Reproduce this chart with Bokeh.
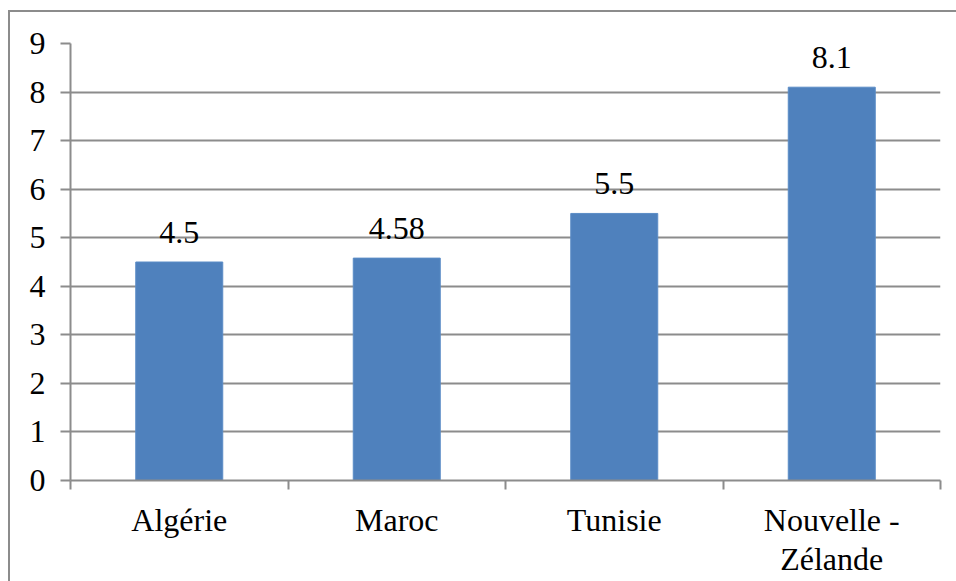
from bokeh.plotting import figure
from bokeh.models import ColumnDataSource, LabelSet, FixedTicker, Range1d
from bokeh.core.properties import value
from bokeh.embed import file_html
from bokeh.resources import INLINE

categories = ["Algérie", "Maroc", "Tunisie", "Nouvelle -\nZélande"]
values = [4.5, 4.58, 5.5, 8.1]
value_labels = ["4.5", "4.58", "5.5", "8.1"]
y_ticks = [0, 1, 2, 3, 4, 5, 6, 7, 8, 9]

FONT = "Liberation Serif"
FS = "32px"
GRAY = "#8c8c8c"

xs = [i + 0.5 for i in range(len(categories))]
src = ColumnDataSource(dict(x=xs, top=values, lab=value_labels))

p = figure(width=946, height=569, frame_width=870, frame_height=437,
           output_backend="svg", toolbar_location=None,
           x_range=Range1d(0, len(categories)), y_range=Range1d(0, 9),
           min_border_left=60, min_border_right=16, min_border_top=31, min_border_bottom=101)
p.margin = (10, 0, 0, 8)
p.styles = {"border-left": "2px solid #8c8c8c", "border-top": "2px solid #8c8c8c"}

p.vbar(x="x", top="top", width=0.4, source=src, fill_color="#4F81BD", line_color="#5b8cc6", line_width=1)

p.add_layout(LabelSet(x="x", y="top", text="lab", source=src, y_offset=19,
                      text_align="center", text_baseline="bottom",
                      text_font=value(FONT), text_font_size=FS, text_color="black"))

p.outline_line_color = None
p.xgrid.grid_line_color = None
p.ygrid.grid_line_color = GRAY
p.ygrid.grid_line_width = 2
p.ygrid.ticker = FixedTicker(ticks=y_ticks)

ya = p.yaxis[0]
ya.ticker = FixedTicker(ticks=y_ticks)
ya.axis_line_color = GRAY
ya.axis_line_width = 2
ya.major_tick_line_color = GRAY
ya.major_tick_line_width = 2
ya.major_tick_out = 10
ya.major_tick_in = 0
ya.minor_tick_line_color = None
ya.major_label_text_font = FONT
ya.major_label_text_font_size = FS
ya.major_label_text_color = "black"
ya.major_label_standoff = 15

xa = p.xaxis[0]
xa.ticker = FixedTicker(ticks=xs, minor_ticks=list(range(len(categories) + 1)))
xa.major_label_overrides = {x: c for x, c in zip(xs, categories)}
xa.axis_line_color = GRAY
xa.axis_line_width = 2
xa.major_tick_line_color = None
xa.minor_tick_line_color = GRAY
xa.minor_tick_line_width = 2
xa.minor_tick_out = 9
xa.minor_tick_in = 0
xa.major_label_text_font = FONT
xa.major_label_text_font_size = FS
xa.major_label_text_line_height = 1.1
xa.major_label_text_color = "black"
xa.major_label_standoff = 12

open("out.html", "w").write(file_html(p, INLINE))
